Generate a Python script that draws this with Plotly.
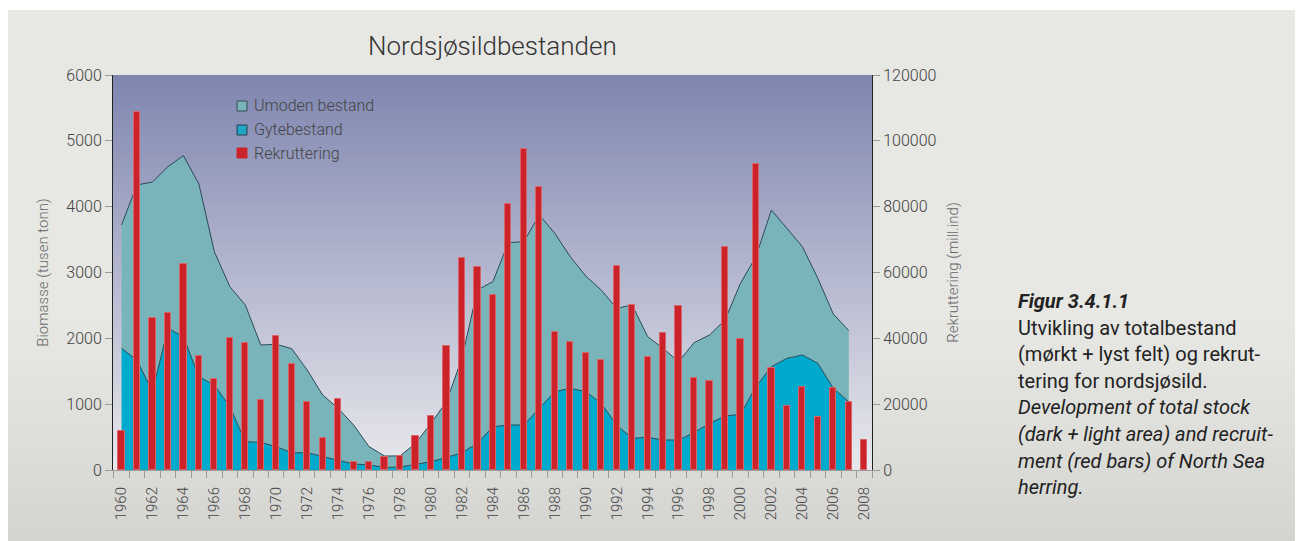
import plotly.graph_objects as go

years_area = list(range(1960, 2008))
total_stock = [3720, 4330, 4375, 4608, 4775, 4344, 3316, 2785, 2506, 1899, 1909, 1843,
               1519, 1139, 937, 684, 354, 213, 213, 405, 709, 1038, 1696, 2734,
               2861, 3453, 3468, 3873, 3595, 3241, 2947, 2734, 2456, 2506, 2025, 1848,
               1646, 1934, 2051, 2278, 2835, 3241, 3949, 3671, 3392, 2911, 2370, 2117]
spawning_stock = [1848, 1671, 1190, 2152, 2025, 1418, 1291, 962, 430, 420, 354, 263,
                  263, 203, 152, 91, 76, 40, 45, 91, 127, 192, 263, 405,
                  658, 684, 684, 937, 1190, 1241, 1190, 1013, 684, 481, 496, 456,
                  456, 567, 709, 820, 846, 1266, 1570, 1696, 1747, 1620, 1241, 1038]
years_rec = list(range(1960, 2009))
recruitment = [11850, 108860, 46080, 47600, 62580, 34630, 27650, 40000, 38480, 21270,
               40810, 32100, 20560, 9820, 21470, 2530, 2330, 4050, 4350, 10330,
               16400, 37670, 64510, 61570, 53170, 80710, 97420, 86080, 42030, 38790,
               35650, 33420, 61980, 50130, 34230, 41520, 49820, 27850, 27040, 67650,
               39700, 92960, 30890, 19440, 25110, 16000, 24810, 20660, 9010]
xtick_years = list(range(1960, 2009, 2))
left_ticks = [0, 1000, 2000, 3000, 4000, 5000, 6000]
right_ticks = [0, 20000, 40000, 60000, 80000, 100000, 120000]

title_text = "Nordsjøsildbestanden"
legend_names = ["Umoden bestand", "Gytebestand", "Rekruttering"]
caption_lines = ["<b><i>Figur 3.4.1.1</i></b>",
                 "Utvikling av totalbestand",
                 "(mørkt + lyst felt) og rekrut-",
                 "tering for nordsjøsild.",
                 "<i>Development of total stock</i>",
                 "<i>(dark + light area) and recruit-</i>",
                 "<i>ment (red bars) of North Sea</i>",
                 "<i>herring.</i>"]

W, H = 1303, 541
OFF = 8  # page body margin offset
L, R, T, B = 113 - OFF, 872 - OFF, 75 - OFF, 470 - OFF
pw, ph = R - L, B - T
FONT = "Roboto Light, Roboto"

def px(x):  # x in page pixels
    return (x - OFF - L) / pw

def py(y):  # y in page pixels
    return (B - (y - OFF)) / ph

def lerp(c1, c2, t):
    return "rgb(%d,%d,%d)" % tuple(round(a + (b - a) * t) for a, b in zip(c1, c2))

def fnt(size, color, weight=300, family=FONT):
    return dict(family=family, size=size, color=color, weight=weight)

fig = go.Figure()

fig.add_trace(go.Scatter(x=years_area, y=spawning_stock, mode="lines", fill="tozeroy",
                         fillcolor="#00aacc", line=dict(color="#2b4a58", width=1),
                         name=legend_names[1], showlegend=False, hoverinfo="skip"))
fig.add_trace(go.Scatter(x=years_area, y=total_stock, mode="lines", fill="tonexty",
                         fillcolor="#7ab4bb", line=dict(color="#2b4a58", width=1),
                         name=legend_names[0], showlegend=False, hoverinfo="skip"))
fig.add_trace(go.Bar(x=years_rec, y=recruitment, yaxis="y2", width=0.4,
                     marker=dict(color="#cc2229", line=dict(color="#d8646a", width=1)),
                     name=legend_names[2], showlegend=False, hoverinfo="skip"))

shapes = []
# page background base + gradient
shapes.append(dict(type="rect", xref="paper", yref="paper", x0=px(0), x1=px(W + OFF),
                   y0=py(H + OFF), y1=py(10), fillcolor="rgb(231,231,227)",
                   line=dict(width=0), layer="below"))
page_top, page_bot = 10, H + OFF
nb = 40
for i in range(nb):
    y0 = page_top + (page_bot - page_top) * i / nb
    t = (y0 - page_top) / (page_bot - page_top)
    t2 = max(0.0, (t - 0.55) / 0.45) ** 1.2
    if t2 <= 0:
        continue
    col = lerp((231, 231, 227), (210, 210, 207), t2)
    shapes.append(dict(type="rect", xref="paper", yref="paper", x0=px(0), x1=px(W + OFF),
                       y0=py(page_bot), y1=py(y0), fillcolor=col, line=dict(width=0),
                       layer="below"))
# plot-area gradient
nb = 132
for i in range(nb):
    y0 = T + ph * i / nb
    t = i / (nb - 1)
    col = lerp((127, 134, 176), (232, 232, 236), t)
    shapes.append(dict(type="rect", xref="paper", yref="paper", x0=0, x1=1,
                       y0=0, y1=(B - y0) / ph, fillcolor=col,
                       line=dict(width=0), layer="below"))

# manual legend
leg_fills = ["#7ab4bb", "#1ea7c8", "#cc2229"]
leg_lines = ["#3a4a55", "#2a3a48", "#cc2229"]
leg_y = [106, 130, 153]
annotations = []
for name, fc, lc, yy in zip(legend_names, leg_fills, leg_lines, leg_y):
    shapes.append(dict(type="rect", xref="paper", yref="paper", x0=px(237), x1=px(247),
                       y0=py(yy + 5), y1=py(yy - 5), fillcolor=fc, line=dict(color=lc, width=1)))
    annotations.append(dict(text=name, xref="paper", yref="paper", x=px(252), y=py(yy),
                            xanchor="left", yanchor="middle", showarrow=False,
                            font=fnt(16, "#444")))

annotations.append(dict(text=title_text, xref="paper", yref="paper", x=px(492), y=py(46),
                        xanchor="center", yanchor="middle", showarrow=False,
                        font=fnt(26, "#333")))

cap_y0, cap_dy = 301, 26.6
for i, line in enumerate(caption_lines):
    annotations.append(dict(text=line, xref="paper", yref="paper", x=px(1016),
                            y=py(cap_y0 + i * cap_dy), xanchor="left", yanchor="middle",
                            showarrow=False, font=fnt(20, "#222", 400, "Roboto")))

fig.update_layout(
    width=W, height=H,
    margin=dict(l=L, r=W - R, t=T, b=H - B, pad=0),
    paper_bgcolor="white", plot_bgcolor="rgba(0,0,0,0)",
    shapes=shapes, annotations=annotations, showlegend=False,
    bargap=0,
    xaxis=dict(range=[1959.45, 2008.5], tickmode="array", tickvals=xtick_years,
               ticktext=[str(y) for y in xtick_years], ticks="", tickangle=-90,
               ticklabelstandoff=10,
               tickfont=fnt(15, "#444"),
               showline=True, linecolor="#999", linewidth=1, showgrid=False, zeroline=False,
               minor=dict(tickmode="array", tickvals=[y - 0.5 for y in years_rec] + [years_rec[-1] + 0.5],
                          ticks="outside", ticklen=7, tickcolor="#999", tickwidth=1, showgrid=False)),
    yaxis=dict(range=[0, 6000], tickmode="array", tickvals=left_ticks,
               ticktext=[str(v) for v in left_ticks], ticks="outside",
               ticklen=7, tickcolor="#999", showline=True, linecolor="#222", linewidth=1,
               showgrid=False, zeroline=False,
               tickfont=fnt(16, "#444"),
               title=dict(text="Biomasse (tusen tonn)", standoff=14, font=fnt(15, "#666"))),
    yaxis2=dict(range=[0, 120000], overlaying="y", side="right", tickmode="array",
                tickvals=right_ticks, ticktext=[str(v) for v in right_ticks],
                ticks="outside", ticklen=7, tickcolor="#999",
                showline=True, linecolor="#222", linewidth=1, showgrid=False, zeroline=False,
                tickfont=fnt(16, "#444"),
                title=dict(text="Rekruttering (mill.ind)", standoff=12, font=fnt(15, "#666"))),
)

fig.write_html("out.html")
